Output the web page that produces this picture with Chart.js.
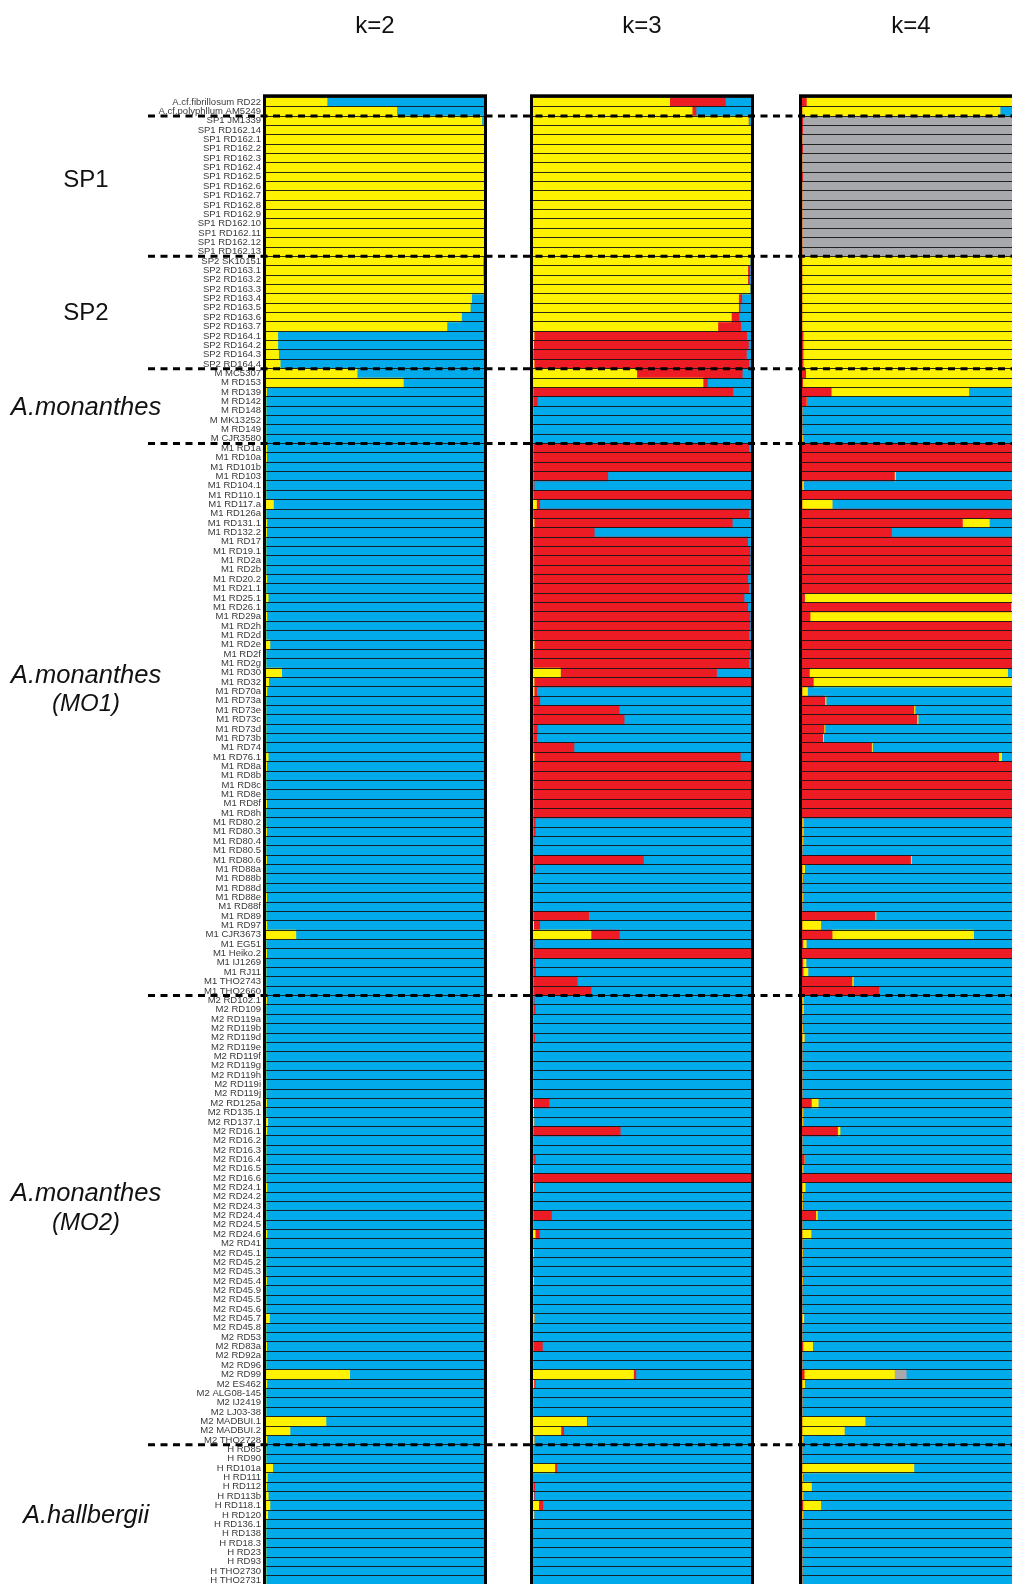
<!DOCTYPE html>
<html>
<head>
<meta charset="utf-8">
<title>STRUCTURE k=2, k=3, k=4</title>
<script src="https://cdn.jsdelivr.net/npm/chart.js@4.4.1/dist/chart.umd.min.js"></script>
<style>
  html, body { margin: 0; padding: 0; background: #fff; width: 1012px; height: 1584px; overflow: hidden; }
  canvas { position: absolute; top: 0; }
</style>
</head>
<body>
<canvas id="k2" width="508" height="1600" style="left:0px"></canvas>
<canvas id="k3" width="269" height="1600" style="left:508px"></canvas>
<canvas id="k4" width="270" height="1600" style="left:777px"></canvas>
<script>
// ---- samples (top to bottom) ----
const samples = [
  'A.cf.fibrillosum RD22', 'A.cf.polyphllum AM5249',
  'SP1 JM1339', 'SP1 RD162.14', 'SP1 RD162.1', 'SP1 RD162.2', 'SP1 RD162.3', 'SP1 RD162.4', 'SP1 RD162.5',
  'SP1 RD162.6', 'SP1 RD162.7', 'SP1 RD162.8', 'SP1 RD162.9', 'SP1 RD162.10', 'SP1 RD162.11', 'SP1 RD162.12', 'SP1 RD162.13',
  'SP2 SK10151', 'SP2 RD163.1', 'SP2 RD163.2', 'SP2 RD163.3', 'SP2 RD163.4', 'SP2 RD163.5', 'SP2 RD163.6', 'SP2 RD163.7',
  'SP2 RD164.1', 'SP2 RD164.2', 'SP2 RD164.3', 'SP2 RD164.4',
  'M MC5307', 'M RD153', 'M RD139', 'M RD142', 'M RD148', 'M MK13252', 'M RD149', 'M CJR3580',
  'M1 RD1a', 'M1 RD10a', 'M1 RD101b', 'M1 RD103', 'M1 RD104.1', 'M1 RD110.1', 'M1 RD117.a', 'M1 RD126a', 'M1 RD131.1',
  'M1 RD132.2', 'M1 RD17', 'M1 RD19.1', 'M1 RD2a', 'M1 RD2b', 'M1 RD20.2', 'M1 RD21.1', 'M1 RD25.1', 'M1 RD26.1',
  'M1 RD29a', 'M1 RD2h', 'M1 RD2d', 'M1 RD2e', 'M1 RD2f', 'M1 RD2g', 'M1 RD30', 'M1 RD32', 'M1 RD70a', 'M1 RD73a',
  'M1 RD73e', 'M1 RD73c', 'M1 RD73d', 'M1 RD73b', 'M1 RD74', 'M1 RD76.1', 'M1 RD8a', 'M1 RD8b', 'M1 RD8c', 'M1 RD8e',
  'M1 RD8f', 'M1 RD8h', 'M1 RD80.2', 'M1 RD80.3', 'M1 RD80.4', 'M1 RD80.5', 'M1 RD80.6', 'M1 RD88a', 'M1 RD88b',
  'M1 RD88d', 'M1 RD88e', 'M1 RD88f', 'M1 RD89', 'M1 RD97', 'M1 CJR3673', 'M1 EG51', 'M1 Heiko.2', 'M1 IJ1269',
  'M1 RJ11', 'M1 THO2743', 'M1 THO2660',
  'M2 RD102.1', 'M2 RD109', 'M2 RD119a', 'M2 RD119b', 'M2 RD119d', 'M2 RD119e', 'M2 RD119f', 'M2 RD119g', 'M2 RD119h',
  'M2 RD119i', 'M2 RD119j', 'M2 RD125a', 'M2 RD135.1', 'M2 RD137.1', 'M2 RD16.1', 'M2 RD16.2', 'M2 RD16.3', 'M2 RD16.4',
  'M2 RD16.5', 'M2 RD16.6', 'M2 RD24.1', 'M2 RD24.2', 'M2 RD24.3', 'M2 RD24.4', 'M2 RD24.5', 'M2 RD24.6', 'M2 RD41',
  'M2 RD45.1', 'M2 RD45.2', 'M2 RD45.3', 'M2 RD45.4', 'M2 RD45.9', 'M2 RD45.5', 'M2 RD45.6', 'M2 RD45.7', 'M2 RD45.8',
  'M2 RD53', 'M2 RD83a', 'M2 RD92a', 'M2 RD96', 'M2 RD99', 'M2 ES462', 'M2 ALG08-145', 'M2 IJ2419', 'M2 LJ03-38',
  'M2 MADBUI.1', 'M2 MADBUI.2', 'M2 THO2728',
  'H RD85', 'H RD90', 'H RD101a', 'H RD111', 'H RD112', 'H RD113b', 'H RD118.1', 'H RD120', 'H RD136.1', 'H RD138',
  'H RD18.3', 'H RD23', 'H RD93', 'H THO2730', 'H THO2731'
];

// index of the first sample of each group (a dashed divider sits above it)
const groupStarts = [2, 17, 29, 37, 96, 144];

const groupNames = [
  { lines: ['SP1'], italic: false },
  { lines: ['SP2'], italic: false },
  { lines: ['A.monanthes'], italic: true },
  { lines: ['A.monanthes', '(MO1)'], italic: true },
  { lines: ['A.monanthes', '(MO2)'], italic: true },
  { lines: ['A.hallbergii'], italic: true }
];

const panelTitles = ['k=2', 'k=3', 'k=4'];

// ---- membership coefficients, K = 2 ----
const k2Yellow = [
  .28, .60, .99, 1, 1, 1, 1, 1, 1, 1,
  1, 1, 1, 1, 1, 1, 1, .995, .995, .997,
  1, .943, .937, .897, .83, .054, .054, .058, .065, .418,
  .63, .003, 0, 0, 0, 0, 0, .004, .003, 0,
  0, 0, 0, .034, 0, .004, .003, 0, 0, 0,
  0, .004, 0, .01, 0, .004, 0, 0, .018, 0,
  0, .072, .012, .004, 0, 0, 0, 0, 0, 0,
  .01, .003, 0, 0, 0, .003, 0, 0, .003, 0,
  0, .003, 0, 0, 0, .003, 0, 0, .004, .137,
  0, .003, 0, 0, 0, 0, .003, 0, 0, 0,
  0, 0, 0, 0, 0, 0, 0, .003, 0, .008,
  .004, 0, 0, 0, 0, 0, .004, 0, 0, 0,
  0, .004, 0, 0, 0, 0, .003, 0, 0, 0,
  .016, 0, 0, .003, 0, 0, .384, .004, 0, 0,
  0, .275, .11, .004, 0, 0, .031, .006, .003, .01,
  .018, .008, 0, 0, 0, 0, 0, 0, 0
];
const k2Blue = [
  .72, .40, .01, 0, 0, 0, 0, 0, 0, 0,
  0, 0, 0, 0, 0, 0, 0, .005, .005, .003,
  0, .057, .063, .103, .17, .946, .946, .942, .935, .582,
  .37, .997, 1, 1, 1, 1, 1, .996, .997, 1,
  1, 1, 1, .966, 1, .996, .997, 1, 1, 1,
  1, .996, 1, .99, 1, .996, 1, 1, .982, 1,
  1, .928, .988, .996, 1, 1, 1, 1, 1, 1,
  .99, .997, 1, 1, 1, .997, 1, 1, .997, 1,
  1, .997, 1, 1, 1, .997, 1, 1, .996, .863,
  1, .997, 1, 1, 1, 1, .997, 1, 1, 1,
  1, 1, 1, 1, 1, 1, 1, .997, 1, .992,
  .996, 1, 1, 1, 1, 1, .996, 1, 1, 1,
  1, .996, 1, 1, 1, 1, .997, 1, 1, 1,
  .984, 1, 1, .997, 1, 1, .616, .996, 1, 1,
  1, .725, .89, .996, 1, 1, .969, .994, .997, .99,
  .982, .992, 1, 1, 1, 1, 1, 1, 1
];

// ---- membership coefficients, K = 3 ----
const k3Yellow = [
  .627, .73, .988, 1, 1, 1, 1, 1, 1, 1,
  1, 1, 1, 1, 1, 1, 1, .995, .985, .985,
  .995, .943, .943, .91, .848, .005, .003, 0, .005, .476,
  .78, 0, 0, 0, 0, 0, 0, 0, 0, 0,
  0, 0, 0, .016, 0, .005, 0, 0, 0, 0,
  0, 0, 0, 0, 0, 0, 0, 0, .005, 0,
  0, .126, .005, .005, 0, 0, 0, 0, 0, 0,
  .005, 0, 0, 0, 0, 0, 0, 0, 0, 0,
  0, 0, 0, 0, 0, 0, 0, 0, .003, .266,
  0, 0, 0, 0, 0, 0, 0, 0, 0, 0,
  0, 0, 0, 0, 0, 0, 0, .003, .003, .004,
  0, 0, 0, 0, .003, 0, .004, 0, 0, 0,
  0, .01, 0, .003, 0, 0, .003, 0, 0, 0,
  .005, 0, 0, 0, 0, 0, .461, .004, 0, 0,
  0, .246, .128, .005, 0, 0, .1, 0, 0, .003,
  .026, .004, 0, 0, 0, 0, 0, 0, 0
];
const k3Red = [
  .256, .018, 0, 0, 0, 0, 0, 0, 0, 0,
  0, 0, 0, 0, 0, 0, 0, 0, .01, .008,
  0, .015, .007, .035, .105, .975, .985, .979, .985, .484,
  .02, .917, .02, 0, 0, 0, 0, .99, 1, 1,
  .343, .005, 1, .015, .99, .909, .281, .985, .995, .995,
  .995, .985, .99, .968, .985, .995, .995, .99, .995, .995,
  .99, .716, .995, .012, .031, .395, .418, .02, .017, .188,
  .946, 1, 1, 1, 1, 1, 1, .01, .01, .004,
  .003, .507, .007, 0, 0, 0, 0, .255, .028, .13,
  .005, 1, .008, .012, .203, .266, .005, .01, 0, 0,
  .008, 0, 0, 0, 0, 0, 0, .07, 0, 0,
  .4, 0, 0, .01, 0, 1, .004, 0, 0, .085,
  0, .02, 0, 0, 0, 0, 0, 0, 0, 0,
  0, 0, 0, .043, 0, 0, .011, .006, 0, 0,
  0, .004, .013, 0, 0, 0, .01, .003, .008, .003,
  .019, 0, .003, .003, .003, .003, .003, .003, .003
];
const k3Blue = [
  .117, .252, .012, 0, 0, 0, 0, 0, 0, 0,
  0, 0, 0, 0, 0, 0, 0, .005, .005, .007,
  .005, .042, .05, .055, .047, .02, .012, .021, .01, .04,
  .2, .083, .98, 1, 1, 1, 1, .01, 0, 0,
  .657, .995, 0, .969, .01, .086, .719, .015, .005, .005,
  .005, .015, .01, .032, .015, .005, .005, .01, 0, .005,
  .01, .158, 0, .983, .969, .605, .582, .98, .983, .812,
  .049, 0, 0, 0, 0, 0, 0, .99, .99, .996,
  .997, .493, .993, 1, 1, 1, 1, .745, .969, .604,
  .995, 0, .992, .988, .797, .734, .995, .99, 1, 1,
  .992, 1, 1, 1, 1, 1, 1, .927, .997, .996,
  .6, 1, 1, .99, .997, 0, .992, 1, 1, .915,
  1, .97, 1, .997, 1, 1, .997, 1, 1, 1,
  .995, 1, 1, .957, 1, 1, .528, .99, 1, 1,
  1, .75, .859, .995, 1, 1, .89, .997, .992, .994,
  .955, .996, .997, .997, .997, .997, .997, .997, .997
];

// ---- membership coefficients, K = 4 ----
const k4Red = [
  .02, 0, .004, .003, 0, .003, 0, 0, .003, 0,
  0, 0, 0, 0, 0, 0, 0, 0, 0, 0,
  0, 0, 0, 0, 0, .005, .005, .005, .005, .017,
  .003, .134, .02, 0, 0, 0, 0, 1, 1, 1,
  .424, 0, 1, 0, 1, .736, .411, 1, 1, 1,
  1, 1, 1, .012, .958, .037, 1, 1, 1, 1,
  1, .034, .052, 0, .105, .513, .527, .101, .095, .319,
  .902, 1, 1, 1, 1, 1, 1, 0, 0, 0,
  0, .498, 0, 0, 0, 0, 0, .335, 0, .138,
  .004, 1, .004, .005, .229, .355, 0, 0, 0, 0,
  0, 0, 0, 0, 0, 0, 0, .043, 0, 0,
  .163, 0, 0, .01, 0, 1, 0, 0, 0, .063,
  0, 0, 0, 0, 0, 0, 0, 0, 0, 0,
  0, 0, 0, .004, 0, 0, .01, 0, 0, 0,
  0, 0, 0, 0, 0, 0, 0, 0, 0, 0,
  .004, 0, 0, 0, 0, 0, 0, 0, 0
];
const k4Yellow = [
  .96, .908, 0, 0, 0, 0, 0, 0, 0, 0,
  0, 0, 0, 0, 0, 0, 0, 1, 1, 1,
  1, 1, 1, 1, 1, .995, .995, .995, .995, .983,
  .967, .631, 0, 0, 0, 0, .004, 0, 0, 0,
  .005, .006, 0, .138, 0, .123, 0, 0, 0, 0,
  0, 0, 0, .96, .012, .963, 0, 0, 0, 0,
  0, .909, .948, .025, .005, .005, .005, .004, .004, .004,
  .014, 0, 0, 0, 0, 0, 0, .005, .005, .004,
  0, .004, .012, .003, 0, .004, 0, .004, .086, .649,
  .015, 0, .014, .022, .006, 0, .005, .006, 0, .003,
  .01, 0, 0, 0, 0, 0, 0, .031, .004, .004,
  .011, 0, 0, 0, .004, 0, .014, .003, .003, .007,
  0, .041, 0, .003, 0, 0, .003, 0, 0, 0,
  .008, 0, 0, .045, 0, 0, .414, .012, 0, 0,
  0, .289, .194, .004, 0, 0, .513, .003, .043, .004,
  .082, .004, 0, 0, 0, 0, 0, 0, 0
];
const k4Gray = [
  0, 0, .996, .997, 1, .997, 1, 1, .997, 1,
  1, 1, 1, 1, 1, 1, 1, 0, 0, 0,
  0, 0, 0, 0, 0, 0, 0, 0, 0, 0,
  0, 0, 0, 0, 0, 0, 0, 0, 0, 0,
  0, 0, 0, 0, 0, 0, 0, 0, 0, 0,
  0, 0, 0, 0, 0, 0, 0, 0, 0, 0,
  0, 0, 0, 0, 0, 0, 0, 0, 0, 0,
  0, 0, 0, 0, 0, 0, 0, 0, 0, 0,
  0, 0, 0, 0, 0, 0, 0, 0, 0, 0,
  0, 0, 0, 0, 0, 0, 0, 0, 0, 0,
  0, 0, 0, 0, 0, 0, 0, 0, 0, 0,
  0, 0, 0, 0, 0, 0, 0, 0, 0, 0,
  0, 0, 0, 0, 0, 0, 0, 0, 0, 0,
  0, 0, 0, 0, 0, 0, .054, 0, 0, 0,
  0, 0, 0, 0, 0, 0, 0, 0, 0, 0,
  0, 0, 0, 0, 0, 0, 0, 0, 0
];
const k4Blue = [
  .02, .092, 0, 0, 0, 0, 0, 0, 0, 0,
  0, 0, 0, 0, 0, 0, 0, 0, 0, 0,
  0, 0, 0, 0, 0, 0, 0, 0, 0, 0,
  .03, .235, .98, 1, 1, 1, .996, 0, 0, 0,
  .571, .994, 0, .862, 0, .141, .589, 0, 0, 0,
  0, 0, 0, .028, .03, 0, 0, 0, 0, 0,
  0, .057, 0, .975, .89, .482, .468, .895, .901, .677,
  .084, 0, 0, 0, 0, 0, 0, .995, .995, .996,
  1, .498, .988, .997, 1, .996, 1, .661, .914, .213,
  .981, 0, .982, .973, .765, .645, .995, .994, 1, .997,
  .99, 1, 1, 1, 1, 1, 1, .926, .996, .996,
  .826, 1, 1, .99, .996, 0, .986, .997, .997, .93,
  1, .959, 1, .997, 1, 1, .997, 1, 1, 1,
  .992, 1, 1, .951, 1, 1, .522, .988, 1, 1,
  1, .711, .806, .996, 1, 1, .487, .997, .957, .996,
  .914, .996, 1, 1, 1, 1, 1, 1, 1
];

// ---- styling ----
const YELLOW = '#FFF200';
const RED = '#ED1C24';
const BLUE = '#00AAEB';
const GRAY = '#A7A9AC';
const FONT = "'Liberation Sans', Arial, Helvetica, sans-serif";

const PLOT_TOP = 97.3;          // top edge of the bar area
const PLOT_BOTTOM_PAD = 14.9;   // canvas runs slightly past the page bottom
const DIVIDER_X0 = 148;         // page x where the dashed dividers begin

// group label placement in the left margin (page px)
const groupLabelX = 86;
const groupLabelY = [[180], [313], [408], [676, 704], [1194, 1223], [1516]];

// Draws the panel frame, dashed group dividers, panel title and group names
const decorPlugin = {
  id: 'structureDecor',
  afterDraw(chart, args, opts) {
    const ctx = chart.ctx;
    const a = chart.chartArea;
    const ys = chart.scales.y;
    ctx.save();

    // heavy frame around the bars
    ctx.strokeStyle = '#000';
    ctx.lineWidth = 3;
    ctx.strokeRect(a.left - 1.5, a.top - 1.5, (a.right - a.left) + 3, (a.bottom - a.top) + 3);

    // dashed dividers between groups
    ctx.setLineDash([7, 5.5]);
    ctx.lineDashOffset = opts.pageLeft + opts.dividerFrom - DIVIDER_X0;
    ctx.lineWidth = 3;
    ctx.strokeStyle = '#000';
    groupStarts.forEach(k => {
      const y = (ys.getPixelForValue(k - 1) + ys.getPixelForValue(k)) / 2;
      ctx.beginPath();
      ctx.moveTo(opts.dividerFrom, y);
      ctx.lineTo(chart.width, y);
      ctx.stroke();
    });
    ctx.setLineDash([]);

    // panel title
    ctx.fillStyle = '#111';
    ctx.font = '24px ' + FONT;
    ctx.textAlign = 'center';
    ctx.textBaseline = 'middle';
    ctx.fillText(opts.title, (a.left + a.right) / 2, 26);

    // group names on the left margin
    if (opts.groupNames) {
      groupNames.forEach((g, i) => {
        g.lines.forEach((line, j) => {
          const species = line.startsWith('A.');
          ctx.font = (g.italic ? 'italic ' : '') + (species ? '25.5px ' : '24px ') + FONT;
          ctx.fillText(line, groupLabelX - opts.pageLeft, groupLabelY[i][j]);
        });
      });
    }
    ctx.restore();
  }
};

function barSet(values, color) {
  return {
    data: values,
    backgroundColor: color,
    borderWidth: 0,
    barPercentage: 1,
    categoryPercentage: 1
  };
}

const panels = [
  { id: 'k2', pageLeft: 0, padLeft: 0, padRight: 24, axisWidth: 266, showLabels: true, dividerFrom: DIVIDER_X0,
    sets: [barSet(k2Yellow, YELLOW), barSet(k2Blue, BLUE)] },
  { id: 'k3', pageLeft: 508, padLeft: 25, padRight: 26, axisWidth: 0, showLabels: false, dividerFrom: 0,
    sets: [barSet(k3Yellow, YELLOW), barSet(k3Red, RED), barSet(k3Blue, BLUE)] },
  { id: 'k4', pageLeft: 777, padLeft: 25, padRight: 27, axisWidth: 0, showLabels: false, dividerFrom: 0,
    sets: [barSet(k4Red, RED), barSet(k4Yellow, YELLOW), barSet(k4Gray, GRAY), barSet(k4Blue, BLUE)] }
];

panels.forEach((p, i) => {
  new Chart(document.getElementById(p.id), {
    type: 'bar',
    data: { labels: samples, datasets: p.sets },
    options: {
      indexAxis: 'y',
      responsive: false,
      maintainAspectRatio: false,
      animation: false,
      events: [],
      layout: { padding: { left: p.padLeft, right: p.padRight, top: PLOT_TOP, bottom: PLOT_BOTTOM_PAD } },
      plugins: {
        legend: { display: false },
        tooltip: { enabled: false },
        title: { display: false },
        structureDecor: {
          title: panelTitles[i],
          pageLeft: p.pageLeft,
          dividerFrom: p.dividerFrom,
          groupNames: p.showLabels
        }
      },
      scales: {
        x: { stacked: true, min: 0, max: 1, display: false },
        y: {
          stacked: true,
          offset: true,
          // row separators are drawn on top of the bars
          grid: { z: 1, offset: true, color: 'rgba(20,20,20,0.9)', lineWidth: 1, drawTicks: false },
          border: { display: false },
          ticks: {
            display: p.showLabels,
            autoSkip: false,
            padding: 5,
            color: '#3a3a3a',
            font: { family: FONT, size: 9.5 }
          },
          afterFit: s => { s.width = p.axisWidth; }
        }
      }
    },
    plugins: [decorPlugin]
  });
});
</script>
</body>
</html>
